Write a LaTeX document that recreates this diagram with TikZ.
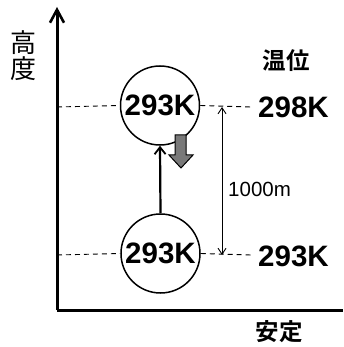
\documentclass[tikz,border=0pt]{standalone}
\usepackage{fontspec}
\setmainfont{Liberation Sans}
\newfontfamily\jpfont{Noto Sans CJK JP}
\newfontfamily\jpbold{Noto Sans CJK JP Bold}
\usetikzlibrary{arrows.meta}
\begin{document}
\begin{tikzpicture}[x=1pt,y=-1pt,
  axis/.style={line width=3pt},
  dashln/.style={dashed, dash pattern=on 5pt off 4pt, line width=0.9pt},
  parcel/.style={circle, draw, line width=1.5pt, minimum size=79pt, inner sep=0pt, font=\fontsize{29.5}{31}\selectfont\bfseries},
  tempval/.style={font=\fontsize{29.5}{31}\selectfont\bfseries, inner sep=0pt},
  jplabel/.style={font=\jpbold\fontsize{23.5}{26}\selectfont, inner sep=0pt}]
\useasboundingbox (0,0) rectangle (343,347);
% axes
\coordinate (origin) at (57,310);
\coordinate (ytop) at (57,7);
\coordinate (xend) at (343,310);
\draw[axis, -{Straight Barb[length=13pt,width=14pt,line width=2.6pt]}] (origin) -- (ytop);
\draw[axis] (origin) -- (xend);
% parcels
\node[parcel] (up) at (160,105.5) {293K};
\node[parcel] (low) at (160.5,253.5) {293K};
% dashed levels
\coordinate (lt) at (57,107);
\coordinate (rt) at (251,107);
\coordinate (lb) at (57,255);
\coordinate (rb) at (251,255);
\draw[dashln] (lt) -- (up.west);
\draw[dashln] (up.east) -- (rt);
\draw[dashln] (lb) -- (low.west);
\draw[dashln] (low.east) -- (rb);
% lifting arrow
\draw[line width=2.2pt, -{Straight Barb[length=7pt,width=11pt,line width=1.8pt]}] (low.north) -- (up.south);
% height arrow
\coordinate (ht) at (222,107);
\coordinate (hb) at (222,255);
\draw[line width=0.9pt, {Straight Barb[length=6pt,width=8pt]}-{Straight Barb[length=6pt,width=8pt]}] (ht) -- (hb);
\node[font=\fontsize{20.5}{22}\selectfont, anchor=west, inner sep=0pt] (dist) at (228,189.5) {1000m};
% gray arrow
\draw[line width=1pt, fill=gray!95!black] (175,135) -- (186,135) -- (186,155) -- (193,155) -- (181,168) -- (169,155) -- (175,155) -- cycle;
% temperature labels
\node[tempval] (t1) at (293.5,107.5) {298K};
\node[tempval] (t2) at (293.5,256) {293K};
\node[jplabel] (wl) at (286,61) {温位};
\node[jplabel] (st) at (279,332) {安定};
\node[font=\jpfont\fontsize{26}{28}\selectfont, align=center, inner sep=0pt] (hl) at (23.5,56) {高\\[-2pt]度};
\end{tikzpicture}
\end{document}
